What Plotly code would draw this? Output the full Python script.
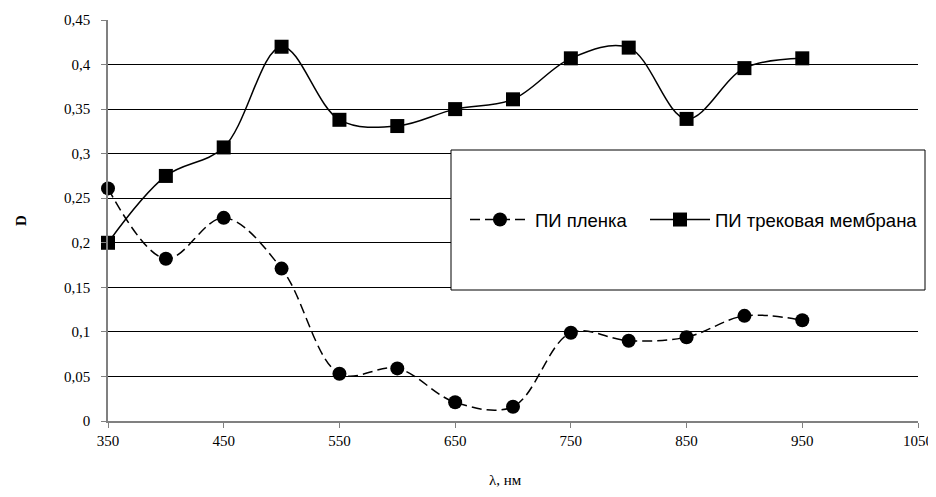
import plotly.graph_objects as go

wavelength = [350, 400, 450, 500, 550, 600, 650, 700, 750, 800, 850, 900, 950]
pi_film = [0.261, 0.182, 0.228, 0.171, 0.053, 0.059, 0.021, 0.016, 0.099, 0.090, 0.094, 0.118, 0.113]
pi_track = [0.200, 0.275, 0.307, 0.420, 0.338, 0.331, 0.350, 0.361, 0.407, 0.419, 0.339, 0.396, 0.407]

y_ticks = [0, 0.05, 0.1, 0.15, 0.2, 0.25, 0.3, 0.35, 0.4, 0.45]
y_tick_labels = ["0", "0,05", "0,1", "0,15", "0,2", "0,25", "0,3", "0,35", "0,4", "0,45"]
x_ticks = [350, 450, 550, 650, 750, 850, 950, 1050]

SERIF = "Times New Roman, Liberation Serif, serif"
SANS = "Arial, Liberation Sans, sans-serif"

FIG_W, FIG_H = 928, 481
# plot area in page pixels (page has an 8px body margin)
PL, PR, PT, PB = 108, 918, 20, 421
PW, PH = PR - PL, PB - PT

def px(x):
    return (x - PL) / PW

def py(y):
    return (PB - y) / PH

fig = go.Figure()
fig.add_trace(go.Scatter(
    x=wavelength, y=pi_film, name="ПИ пленка", mode="lines+markers",
    line=dict(color="black", width=1.5, dash="10px,5px", shape="spline", smoothing=1),
    marker=dict(symbol="circle", size=14, color="black"),
    cliponaxis=False, legend="legend",
))
fig.add_trace(go.Scatter(
    x=wavelength, y=pi_track, name="ПИ трековая мембрана", mode="lines+markers",
    line=dict(color="black", width=1.5, shape="spline", smoothing=1),
    marker=dict(symbol="square", size=14, color="black"),
    cliponaxis=False, legend="legend2",
))

fig.add_shape(type="rect", xref="paper", yref="paper",
              x0=px(451), x1=px(925), y0=py(290), y1=py(150),
              line=dict(color="black", width=1), fillcolor="white", layer="above")

fig.add_annotation(text="λ, нм", xref="paper", yref="paper",
                   x=px(505), y=py(480), xanchor="center", yanchor="middle",
                   showarrow=False, font=dict(family=SERIF, size=15, color="black"))

legend_common = dict(
    orientation="h", xanchor="left", yanchor="middle",
    bgcolor="rgba(0,0,0,0)", borderwidth=0,
    font=dict(family=SANS, size=18.5, color="black"),
    itemwidth=60,
)

fig.update_layout(
    width=FIG_W, height=FIG_H,
    margin=dict(l=PL - 8, r=FIG_W - (PR - 8), t=PT - 8, b=FIG_H - (PB - 8)),
    paper_bgcolor="white", plot_bgcolor="white",
    font=dict(family=SERIF, size=15, color="black"),
    showlegend=True,
    legend=dict(x=px(465), y=py(220), **legend_common),
    legend2=dict(x=px(645), y=py(220), **legend_common),
    xaxis=dict(
        range=[350, 1050], tickvals=x_ticks, showgrid=False,
        showline=True, linecolor="#808080", linewidth=1.5,
        ticks="outside", ticklen=5, tickcolor="#808080",
        zeroline=False, automargin=False, ticklabeloverflow="allow",
        tickfont=dict(family=SERIF, size=15),
    ),
    yaxis=dict(
        range=[0, 0.45], tickvals=y_ticks, ticktext=y_tick_labels,
        showgrid=True, gridcolor="black", gridwidth=1,
        showline=True, linecolor="#808080", linewidth=1.5,
        ticks="outside", ticklen=5, tickcolor="#808080",
        zeroline=False, automargin=False, ticklabelstandoff=8,
        tickfont=dict(family=SERIF, size=15),
        title=dict(text="<b>D</b>", font=dict(family=SERIF, size=15), standoff=34),
    ),
)

fig.write_html("out.html")
